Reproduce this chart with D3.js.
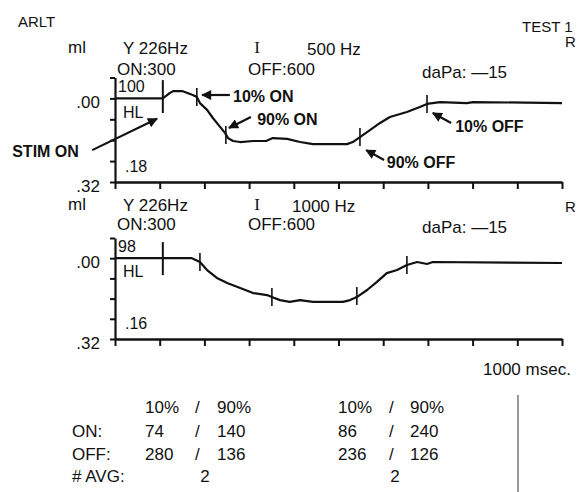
<!DOCTYPE html>
<html>
<head>
<meta charset="utf-8">
<script src="https://cdn.jsdelivr.net/npm/d3@7"></script>
<style>
  body { margin: 0; background: #fff; }
  svg text { font-family: "Liberation Sans", Arial, sans-serif; fill: #111; }
</style>
</head>
<body>
<div id="chart"></div>
<script>
// --- data ---
var topTime = [0, 107, 123, 130, 150, 174, 183, 190, 206, 219, 235, 246, 253, 264, 280, 309, 338, 353, 385, 414, 443, 474, 519, 532, 548, 564, 593, 615, 653, 682, 698, 727, 787, 801, 1000];
var topMl = [0, 0, -0.021, -0.028, -0.028, -0.013, -0.005, 0.018, 0.044, 0.075, 0.109, 0.132, 0.152, 0.163, 0.167, 0.163, 0.163, 0.152, 0.155, 0.167, 0.175, 0.175, 0.175, 0.167, 0.148, 0.129, 0.094, 0.071, 0.052, 0.033, 0.021, 0.014, 0.018, 0.014, 0.018];

var bottomTime = [0, 172, 190, 206, 228, 251, 280, 309, 340, 351, 369, 391, 414, 443, 510, 526, 541, 564, 586, 608, 631, 653, 676, 698, 711, 1000];
var bottomMl = [0, 0, 0.015, 0.047, 0.078, 0.098, 0.118, 0.138, 0.146, 0.154, 0.166, 0.173, 0.166, 0.173, 0.173, 0.166, 0.154, 0.126, 0.094, 0.059, 0.047, 0.027, 0.015, 0.023, 0.015, 0.019];

// 10% ON, 90% ON, 90% OFF, 10% OFF marks
var topEventMs = [183, 248, 548, 698];
var topEventMl = [-0.005, 0.14, 0.148, 0.021];
var bottomEventMs = [190, 351, 541, 653];
var bottomEventMl = [0.015, 0.154, 0.15, 0.027];

var stimOnMs = 107;
var topStimSpan = [-0.07, 0.056];
var bottomStimSpan = [-0.064, 0.067];

var yTicks = [-0.08, 0, 0.08, 0.16, 0.24, 0.32];
var yTickLabels = { "0": ".00", "0.32": ".32" };
var xTicks = [0, 100, 200, 300, 400, 500, 600, 700, 800, 900, 1000];

var panelFreq = ["500 Hz", "1000 Hz"];
var panelLevel = ["100", "98"];
var panelLow = [".18", ".16"];

// arrow labels for top trace, in data units (ms, ml)
var annoText = ["STIM ON", "10% ON", "90% ON", "90% OFF", "10% OFF"];
var annoTextPos = [[-230, 0.224], [264, 0.014], [318, 0.102], [608, 0.266], [761, 0.129]];
var annoFrom = [[-51, 0.198], [257, -0.013], [304, 0.071], [602, 0.236], [752, 0.094]];
var annoTo = [[94, 0.078], [195, -0.013], [255, 0.113], [562, 0.198], [711, 0.056]];

var tableHead = ["10%", "/", "90%"];
var rowLabels = ["ON:", "OFF:", "# AVG:"];
var set1On = [74, 140], set1Off = [280, 136], set1Avg = 2;
var set2On = [86, 240], set2Off = [236, 126], set2Avg = 2;

var W = 577, H = 492;
var svg = d3.select("#chart").append("svg")
    .attr("width", W).attr("height", H);

svg.append("defs").append("marker")
    .attr("id", "head")
    .attr("viewBox", "0 0 10 10")
    .attr("refX", 9).attr("refY", 5)
    .attr("markerUnits", "userSpaceOnUse")
    .attr("markerWidth", 12).attr("markerHeight", 10)
    .attr("orient", "auto")
    .append("path")
    .attr("d", "M0,0 L10,5 L0,10 z")
    .attr("fill", "#111");

var x = d3.scaleLinear().domain([0, 1000]).range([115, 562]);

svg.append("text").attr("x", 18).attr("y", 27).style("font-size", "15px").text("ARLT");
svg.append("text").attr("x", 522).attr("y", 32).style("font-size", "15px").text("TEST 1");

function drawPanel(p) {
    var y = d3.scaleLinear().domain([-0.08, 0.32]).range(p.yRange);
    var g = svg.append("g");

    // header
    var hy = p.headY;
    g.append("text").attr("x", 68).attr("y", hy[0]).style("font-size", "17px").text("ml");
    g.append("text").attr("x", 123).attr("y", hy[0] + 1).style("font-size", "17px").text("Y 226Hz");
    g.append("text").attr("x", 257).attr("y", hy[0]).attr("text-anchor", "middle")
        .style("font-family", "Liberation Serif, serif").style("font-size", "17px").text("I");
    g.append("text").attr("x", p.freqX).attr("y", hy[0] + 2).style("font-size", "17px").text(p.freq);
    g.append("text").attr("x", 565).attr("y", hy[0] - p.rOffset).style("font-size", "15px").text("R");
    g.append("text").attr("x", 117).attr("y", hy[1]).style("font-size", "17px").text("ON:300");
    g.append("text").attr("x", 248).attr("y", hy[1]).style("font-size", "17px").text("OFF:600");
    g.append("text").attr("x", 422).attr("y", hy[1] + 3).style("font-size", "17px").text("daPa: \u201415");

    // axes
    var yAxis = d3.axisLeft(y).tickValues(yTicks).tickSize(5).tickSizeOuter(0)
        .tickFormat(function (d) { return yTickLabels[String(d)] || ""; });
    var ya = g.append("g").attr("transform", "translate(115,0)").call(yAxis);
    ya.select(".domain").attr("stroke", "#111").attr("stroke-width", 2.2);
    ya.selectAll(".tick line").attr("stroke", "#111").attr("stroke-width", 2);
    ya.selectAll(".tick text").attr("x", -15).attr("dy", "0.55em")
        .style("font-size", "17px").style("font-family", "Liberation Sans, Arial, sans-serif");

    var xAxis = d3.axisBottom(x).tickValues(xTicks).tickSize(7).tickSizeOuter(0).tickFormat("");
    var xa = g.append("g").attr("transform", "translate(0," + p.yRange[1] + ")").call(xAxis);
    xa.select(".domain").attr("stroke", "#111").attr("stroke-width", 2.6);
    xa.selectAll(".tick line").attr("stroke", "#111").attr("stroke-width", 2);

    // in-plot labels
    g.append("text").attr("x", 118).attr("y", y(-0.024)).style("font-size", "16px").text(p.level);
    g.append("text").attr("x", 123).attr("y", y(0.076)).style("font-size", "16px").text("HL");
    g.append("text").attr("x", 125).attr("y", y(0.28)).style("font-size", "16px").text(p.low);

    // trace
    var pts = p.time.map(function (t, i) { return [t, p.ml[i]]; });
    var line = d3.line().x(function (d) { return x(d[0]); }).y(function (d) { return y(d[1]); });
    g.append("path").datum(pts).attr("d", line)
        .attr("fill", "none").attr("stroke", "#111").attr("stroke-width", 2.2)
        .attr("stroke-linejoin", "round");

    // stimulus-on marker
    g.append("line")
        .attr("x1", x(stimOnMs)).attr("x2", x(stimOnMs))
        .attr("y1", y(p.stimSpan[0])).attr("y2", y(p.stimSpan[1]))
        .attr("stroke", "#111").attr("stroke-width", 2);

    // 10/90 % marks
    g.selectAll(".ev").data(p.evMs).enter().append("line")
        .attr("x1", function (d) { return x(d); })
        .attr("x2", function (d) { return x(d); })
        .attr("y1", function (d, i) { return y(p.evMl[i]) - 9; })
        .attr("y2", function (d, i) { return y(p.evMl[i]) + 9; })
        .attr("stroke", "#111").attr("stroke-width", 1.6);

    return { g: g, y: y };
}

var topPanel = drawPanel({
    yRange: [77.5, 182], headY: [53, 75], freq: panelFreq[0], freqX: 307, rOffset: 6,
    level: panelLevel[0], low: panelLow[0],
    time: topTime, ml: topMl, evMs: topEventMs, evMl: topEventMl, stimSpan: topStimSpan
});
var bottomPanel = drawPanel({
    yRange: [238, 339], headY: [210, 230], freq: panelFreq[1], freqX: 292, rOffset: -2,
    level: panelLevel[1], low: panelLow[1],
    time: bottomTime, ml: bottomMl, evMs: bottomEventMs, evMl: bottomEventMl, stimSpan: bottomStimSpan
});

// annotations on top trace
annoText.forEach(function (t, i) {
    topPanel.g.append("line")
        .attr("x1", x(annoFrom[i][0])).attr("y1", topPanel.y(annoFrom[i][1]))
        .attr("x2", x(annoTo[i][0])).attr("y2", topPanel.y(annoTo[i][1]))
        .attr("stroke", "#111").attr("stroke-width", 2.2)
        .attr("marker-end", "url(#head)");
    topPanel.g.append("text")
        .attr("x", x(annoTextPos[i][0])).attr("y", topPanel.y(annoTextPos[i][1]))
        .style("font-size", "16px").style("font-weight", "bold")
        .text(t);
});

svg.append("text").attr("x", 483).attr("y", 375).style("font-size", "17px").text("1000 msec.");

// results table
var rowY = [413, 437, 460, 482];
var sets = [
    { on: set1On, off: set1Off, avg: set1Avg, cx: [145, 195, 217], avgX: 205 },
    { on: set2On, off: set2Off, avg: set2Avg, cx: [338, 389, 410], avgX: 395 }
];
rowLabels.forEach(function (r, i) {
    svg.append("text").attr("x", 72).attr("y", rowY[i + 1]).style("font-size", "17px").text(r);
});
sets.forEach(function (s) {
    tableHead.forEach(function (h, j) {
        svg.append("text").attr("x", s.cx[j]).attr("y", rowY[0]).style("font-size", "17px").text(h);
    });
    [s.on, s.off].forEach(function (vals, r) {
        svg.append("text").attr("x", s.cx[0]).attr("y", rowY[r + 1]).style("font-size", "17px").text(vals[0]);
        svg.append("text").attr("x", s.cx[1]).attr("y", rowY[r + 1]).style("font-size", "17px").text("/");
        svg.append("text").attr("x", s.cx[2]).attr("y", rowY[r + 1]).style("font-size", "17px").text(vals[1]);
    });
    svg.append("text").attr("x", s.avgX).attr("y", rowY[3]).attr("text-anchor", "middle")
        .style("font-size", "17px").text(s.avg);
});
svg.append("line").attr("x1", 518).attr("x2", 518).attr("y1", 395).attr("y2", H)
    .attr("stroke", "#777").attr("stroke-width", 1.5);
</script>
</body>
</html>
